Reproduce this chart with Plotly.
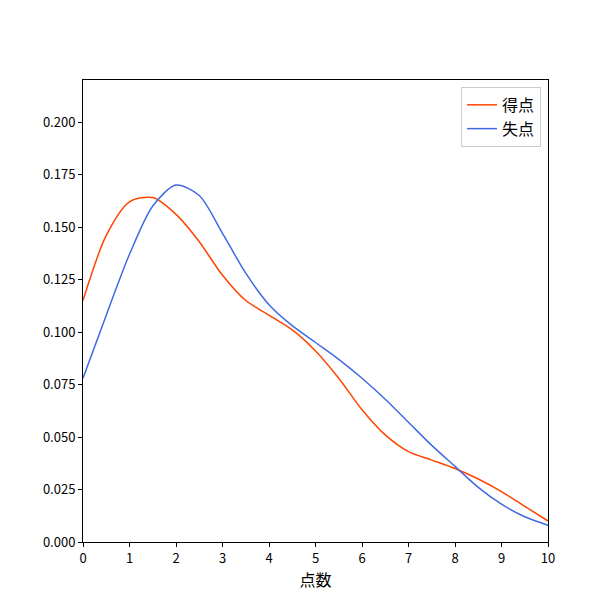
import plotly.graph_objects as go

x = [0, 0.5, 1, 1.5, 2, 2.5, 3, 3.5, 4, 4.5, 5, 5.5, 6, 6.5, 7, 7.5, 8, 8.5, 9, 9.5, 10]
scored = [0.115, 0.146, 0.162, 0.164, 0.156, 0.143, 0.127, 0.115, 0.108, 0.101, 0.091,
          0.078, 0.063, 0.051, 0.043, 0.039, 0.035, 0.030, 0.024, 0.017, 0.010]
conceded = [0.078, 0.108, 0.137, 0.160, 0.170, 0.165, 0.147, 0.128, 0.113, 0.103, 0.095,
            0.087, 0.078, 0.068, 0.057, 0.046, 0.036, 0.026, 0.018, 0.012, 0.008]

font = "Noto Sans CJK JP"

fig = go.Figure()
fig.add_trace(go.Scatter(x=x, y=scored, mode="lines", name="得点",
                         line=dict(color="#ff4500", width=1.5, shape="spline", smoothing=0.8)))
fig.add_trace(go.Scatter(x=x, y=conceded, mode="lines", name="失点",
                         line=dict(color="#4169e1", width=1.5, shape="spline", smoothing=0.8)))

axis = dict(showline=True, linecolor="black", linewidth=1, mirror=True,
            ticks="outside", ticklen=4, tickcolor="black", showgrid=False,
            zeroline=False, automargin=False, tickfont=dict(size=13, color="black"))
fig.update_xaxes(range=[0, 10], dtick=1,
                 title=dict(text="点数", font=dict(size=16, color="black"), standoff=8), **axis)
fig.update_yaxes(range=[0, 0.22], tickvals=[0, 0.025, 0.05, 0.075, 0.1, 0.125, 0.15, 0.175, 0.2],
                 tickformat=".3f", **axis)
fig.update_layout(
    width=600, height=600, plot_bgcolor="white", paper_bgcolor="white",
    font=dict(family=font),
    margin=dict(l=75, r=60, t=72, b=66),
    legend=dict(x=0.985, y=0.985, xanchor="right", yanchor="top",
                bordercolor="#cccccc", borderwidth=1, font=dict(size=16, color="black")),
)
fig.write_html("out.html")
